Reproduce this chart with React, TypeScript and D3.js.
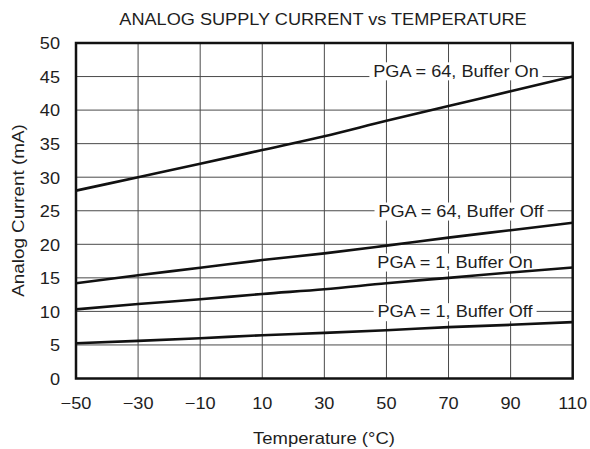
import React, { useEffect, useRef } from "react";
import * as d3 from "d3";

const temps = [-50, -30, -10, 10, 30, 50, 70, 90, 110];
const pga64BufOn = [28.0, 30.0, 32.0, 34.05, 36.1, 38.4, 40.6, 42.8, 45.0];
const pga64BufOff = [14.2, 15.4, 16.5, 17.65, 18.65, 19.8, 21.0, 22.1, 23.2];
const pga1BufOn = [10.3, 11.1, 11.8, 12.6, 13.3, 14.2, 15.0, 15.8, 16.55];
const pga1BufOff = [5.25, 5.6, 6.0, 6.45, 6.8, 7.2, 7.65, 8.0, 8.4];
const seriesNames = [
  "PGA = 64, Buffer On",
  "PGA = 64, Buffer Off",
  "PGA = 1, Buffer On",
  "PGA = 1, Buffer Off",
];
const xTicks = [-50, -30, -10, 10, 30, 50, 70, 90, 110];
const yTicks = [0, 5, 10, 15, 20, 25, 30, 35, 40, 45, 50];
const title = "ANALOG SUPPLY CURRENT vs TEMPERATURE";
const xTitle = "Temperature (\u00B0C)";
const yTitle = "Analog Current (mA)";

const FONT = "'Liberation Sans', Arial, Helvetica, sans-serif";

export default function App() {
  const ref = useRef<SVGSVGElement | null>(null);

  useEffect(() => {
    const svg = d3.select(ref.current);
    svg.selectAll("*").remove();
    const L = 76, R = 572.7, T = 43, B = 378.5;
    const x = d3.scaleLinear().domain([-50, 110]).range([L, R]);
    const y = d3.scaleLinear().domain([0, 50]).range([B, T]);

    const txt = (g: any, s: string, tx: number, ty: number, size: number, anchor: string, sx: number, rot = 0) => {
      return g.append("text")
        .attr("transform", `translate(${tx},${ty})${rot ? ` rotate(${rot})` : ""} scale(${sx},1)`)
        .attr("text-anchor", anchor)
        .attr("font-family", FONT)
        .attr("font-size", size)
        .attr("fill", "#1e1e1e")
        .text(s);
    };

    // grid
    const grid = svg.append("g");
    grid.selectAll("line.v").data(xTicks.slice(1, -1)).join("line")
      .attr("class", "v")
      .attr("x1", (d) => x(d)).attr("x2", (d) => x(d))
      .attr("y1", T).attr("y2", B)
      .attr("stroke", "#4a4a4a").attr("stroke-width", 1);
    grid.selectAll("line.h").data(yTicks.slice(1, -1)).join("line")
      .attr("class", "h")
      .attr("x1", L).attr("x2", R)
      .attr("y1", (d) => y(d)).attr("y2", (d) => y(d))
      .attr("stroke", "#4a4a4a").attr("stroke-width", 1);

    const boxLayer = svg.append("g");
    const lineLayer = svg.append("g");
    const textLayer = svg.append("g");

    // series lines
    const all = [pga64BufOn, pga64BufOff, pga1BufOn, pga1BufOff];
    const line = d3.line<number>()
      .x((_, i) => x(temps[i]))
      .y((d) => y(d))
      .curve(d3.curveMonotoneX);
    all.forEach((vals) => {
      lineLayer.append("path").attr("d", line(vals) as string)
        .attr("fill", "none").attr("stroke", "#111").attr("stroke-width", 2.6);
    });

    // labels with white boxes
    const LS = 1.1;
    const labelPos = [
      { t: 72.4, v: 45, mode: "base" },
      { t: 74.0, v: 25, mode: "mid" },
      { t: 72.1, v: 17.4, mode: "mid" },
      { t: 72.1, v: 10, mode: "mid" },
    ];
    seriesNames.forEach((name, i) => {
      const p = labelPos[i];
      const cy = p.mode === "base" ? y(p.v) : y(p.v) + 6;
      const tr = `translate(${x(p.t)},${cy}) scale(${LS},1)`;
      const t = textLayer.append("text")
        .attr("transform", tr)
        .attr("text-anchor", "middle")
        .attr("font-family", FONT)
        .attr("font-size", 16.5)
        .attr("fill", "#1e1e1e")
        .text(name);
      const bb = (t.node() as SVGTextElement).getBBox();
      boxLayer.append("rect")
        .attr("transform", tr)
        .attr("x", bb.x - 3.5).attr("y", bb.y + 1)
        .attr("width", bb.width + 7).attr("height", bb.height - 1)
        .attr("fill", "#fff");
    });

    // frame
    svg.append("rect").attr("x", L).attr("y", T).attr("width", R - L).attr("height", B - T)
      .attr("fill", "none").attr("stroke", "#111").attr("stroke-width", 2.5);

    // ticks
    xTicks.forEach((d) => txt(svg, d3.format("")(d), x(d), 408.5, 16.5, "middle", 1.1));
    yTicks.forEach((d) => txt(svg, String(d), 60, y(d) + 6.3, 16.5, "end", 1.1));

    txt(svg, title, 323, 24.5, 16.5, "middle", 1.1);
    txt(svg, xTitle, 324, 444, 16.5, "middle", 1.12);
    txt(svg, yTitle, 24, 210.5, 16.5, "middle", 1.14, -90);
  }, []);

  return (
    <svg
      ref={ref}
      width={590}
      height={449}
      style={{ position: "absolute", left: 0, top: 0, background: "#fff" }}
    />
  );
}
